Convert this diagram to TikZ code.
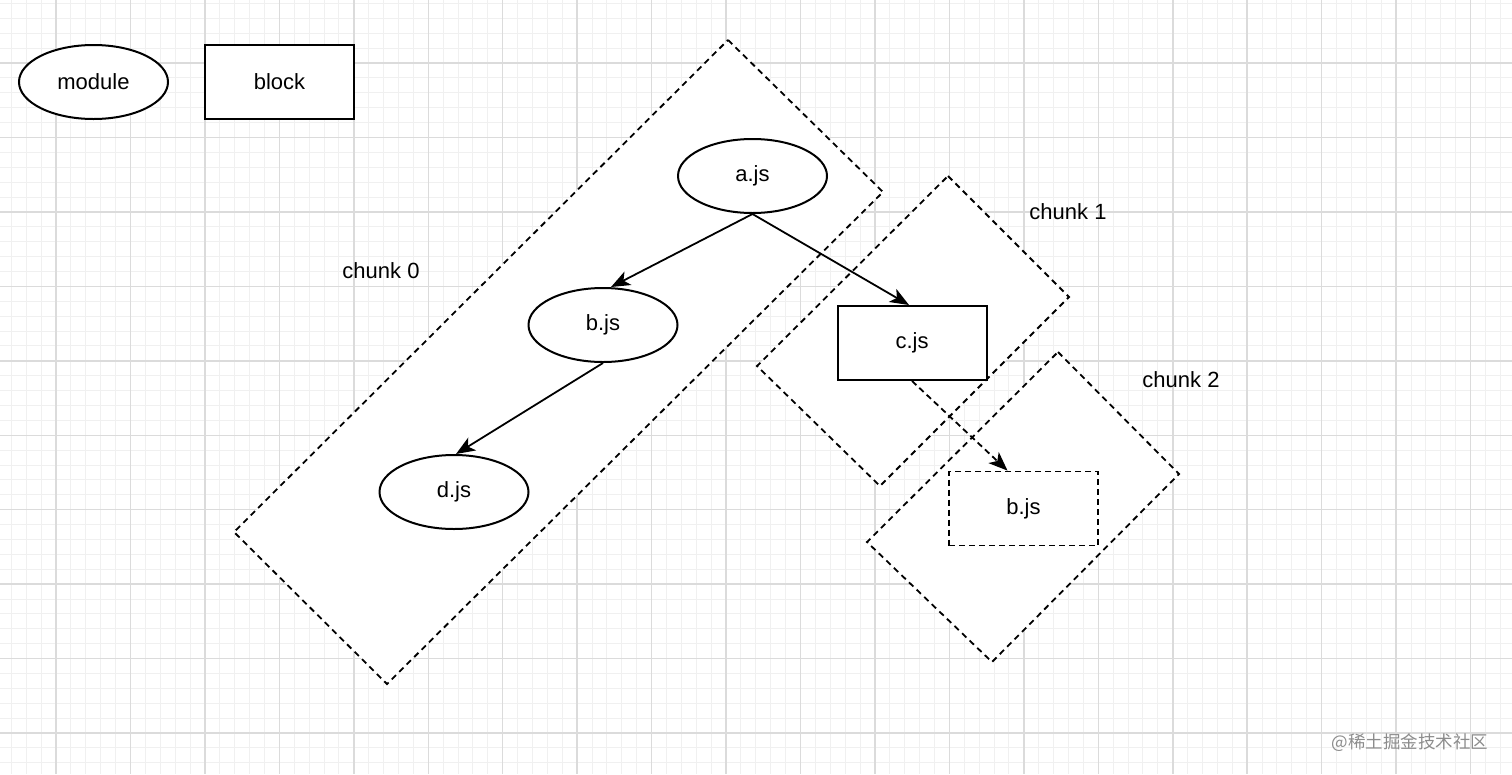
\documentclass[tikz,border=0pt]{standalone}
\usepackage{fontspec}
\setmainfont{Liberation Sans}
\newfontfamily\cjkfont{Noto Sans CJK SC}
\usepackage{tikz}
\usetikzlibrary{arrows.meta,calc,positioning,shapes.geometric}
\tikzset{%
	module/.style    = {draw, ellipse, line width=2pt, fill=white, minimum width=149pt, minimum height=74pt, inner sep=0pt, text centered},
	block/.style     = {draw, rectangle, line width=2pt, fill=white, minimum width=149pt, minimum height=74pt, inner sep=0pt, text centered},
	dupblock/.style  = {block, line width=1.8pt, dash pattern=on 6pt off 4pt},
	chunkbox/.style  = {draw, fill=white, line width=1.8pt, dash pattern=on 6pt off 4.5pt},
	chunklabel/.style= {inner sep=0pt},
	arrow/.style     = {line width=1.8pt, -{Stealth[length=19pt,width=15pt,inset=5pt]}},
	minorgrid/.style = {draw=black!6, line width=1pt},
	majorgrid/.style = {draw=black!14, line width=1.5pt},
}

\begin{document}
\begin{tikzpicture}[x=1pt,y=-1pt,font=\fontsize{22}{26}\selectfont]
	\useasboundingbox[fill=white] (0,0) rectangle (1512,774);
	
	% grid paper
	\foreach \i in {-3,...,98} \draw[minorgrid] ({56+14.89*\i},0) -- ++(0,774);
	\foreach \j in {-4,...,48} \draw[minorgrid] (0,{63+14.89*\j}) -- ++(1512,0);
	\foreach \i in {0,...,19} \draw[majorgrid] ({56+74.45*\i},0) -- ++(0,774);
	\foreach \j in {0,...,9} \draw[majorgrid] (0,{63+74.45*\j}) -- ++(1512,0);
	
	% legend
	\node[module] (legmod) at (93.5,82) {module};
	\node[block] (legblk) at (279.5,82) {block};
	
	% chunks
	\draw[chunkbox] (728,40) -- (883,192) -- (387,684) -- (234,532) -- cycle;
	\draw[chunkbox] (948,176) -- (1069,297) -- (880,486) -- (757,366) -- cycle;
	\draw[chunkbox] (1058,352) -- (1179,474) -- (992,662) -- (867,542) -- cycle;
	\node[chunklabel] (lbl0) at (381,271) {chunk 0};
	\node[chunklabel] (lbl1) at (1068,212) {chunk 1};
	\node[chunklabel] (lbl2) at (1181,380) {chunk 2};
	
	% modules
	\node[module] (a) at (752.5,176) {a.js};
	\node[module] (b) at (603,325) {b.js};
	\node[module] (d) at (454,492) {d.js};
	\node[block] (c) at (912,343) {c.js};
	\node[dupblock] (bdup) at (1023.5,508.5) {b.js};
	
	\draw[arrow] (a.south) -- ([xshift=8pt]b.north);
	\draw[arrow] (a.south) -- ([xshift=-3pt]c.north);
	\draw[arrow] (b.south) -- ([xshift=2pt]d.north);
	\draw[arrow, dash pattern=on 6pt off 4pt] (c.south) -- ([xshift=-16pt]bdup.north);
	
	\node[text=black!45, font=\cjkfont\fontsize{17.5}{20}\selectfont] (mark) at (1410,743) {@稀土掘金技术社区};
\end{tikzpicture}
\end{document}
